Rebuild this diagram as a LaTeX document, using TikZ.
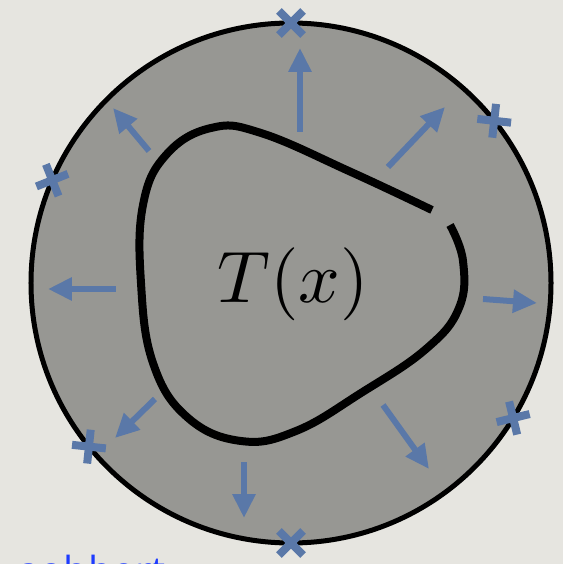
\documentclass[tikz,border=0pt]{standalone}
\usepackage{fontspec}
\newfontfamily\captionfont{Open Sans}
\usepackage{xcolor}
\definecolor{paperbg}{HTML}{E6E5E0}
\definecolor{diskgray}{HTML}{979793}
\definecolor{flowblue}{HTML}{5A78A8}
\definecolor{linkblue}{HTML}{1E3CFF}
\usetikzlibrary{arrows.meta}
\tikzset{
    flowarrow/.style={draw=flowblue, line width=6pt, -{Triangle[length=24pt, width=22pt]}},
    crossmark/.style={draw=flowblue, line width=8pt},
    boundary/.style={draw=black, line width=8pt}
}

\begin{document}
\begin{tikzpicture}[x=1pt, y=1pt]
    \useasboundingbox[fill=paperbg] (-291,-281) rectangle (272,283);
    % disk and its rim
    \draw[fill=diskgray, line width=5pt] (0,0) circle[radius=260pt];
    % closed boundary with a small gap
    \draw[boundary] plot[smooth, tension=0.7] coordinates {
        (159,58) (172,22) (168,-25) (135,-66) (70,-110) (5,-148) (-50,-158)
        (-104,-134) (-138,-80) (-150,0) (-148,78) (-125,128) (-80,155)
        (-30,150) (60,111) (141,73)};
    \node[scale=7.3] (tx) at (2,-1) {$T(x)$};
    % outward arrows
    \foreach \sx/\sy/\ex/\ey in {9/151/9/235, 97/116/154/176, -142/132/-178/175,
        -175/-6/-243/-6, 192/-16/246/-20, -136/-116/-176/-155,
        -47/-179/-47/-235, 92/-122/138/-186} {
        \draw[flowarrow] (\sx,\sy) -- (\ex,\ey);
    }
    % marks on the rim
    \foreach \a in {90, 38.6, 156.7, 219, 270, 328.7} {
        \draw[crossmark] (\a:260) ++(\a+45:17) -- ++(\a+225:34);
        \draw[crossmark] (\a:260) ++(\a-45:17) -- ++(\a+135:34);
    }
    \node[anchor=base west, inner sep=0pt, text=linkblue, font=\captionfont\fontsize{40}{48}\selectfont] (caption) at (-274,-302) {aobbert};
\end{tikzpicture}
\end{document}
